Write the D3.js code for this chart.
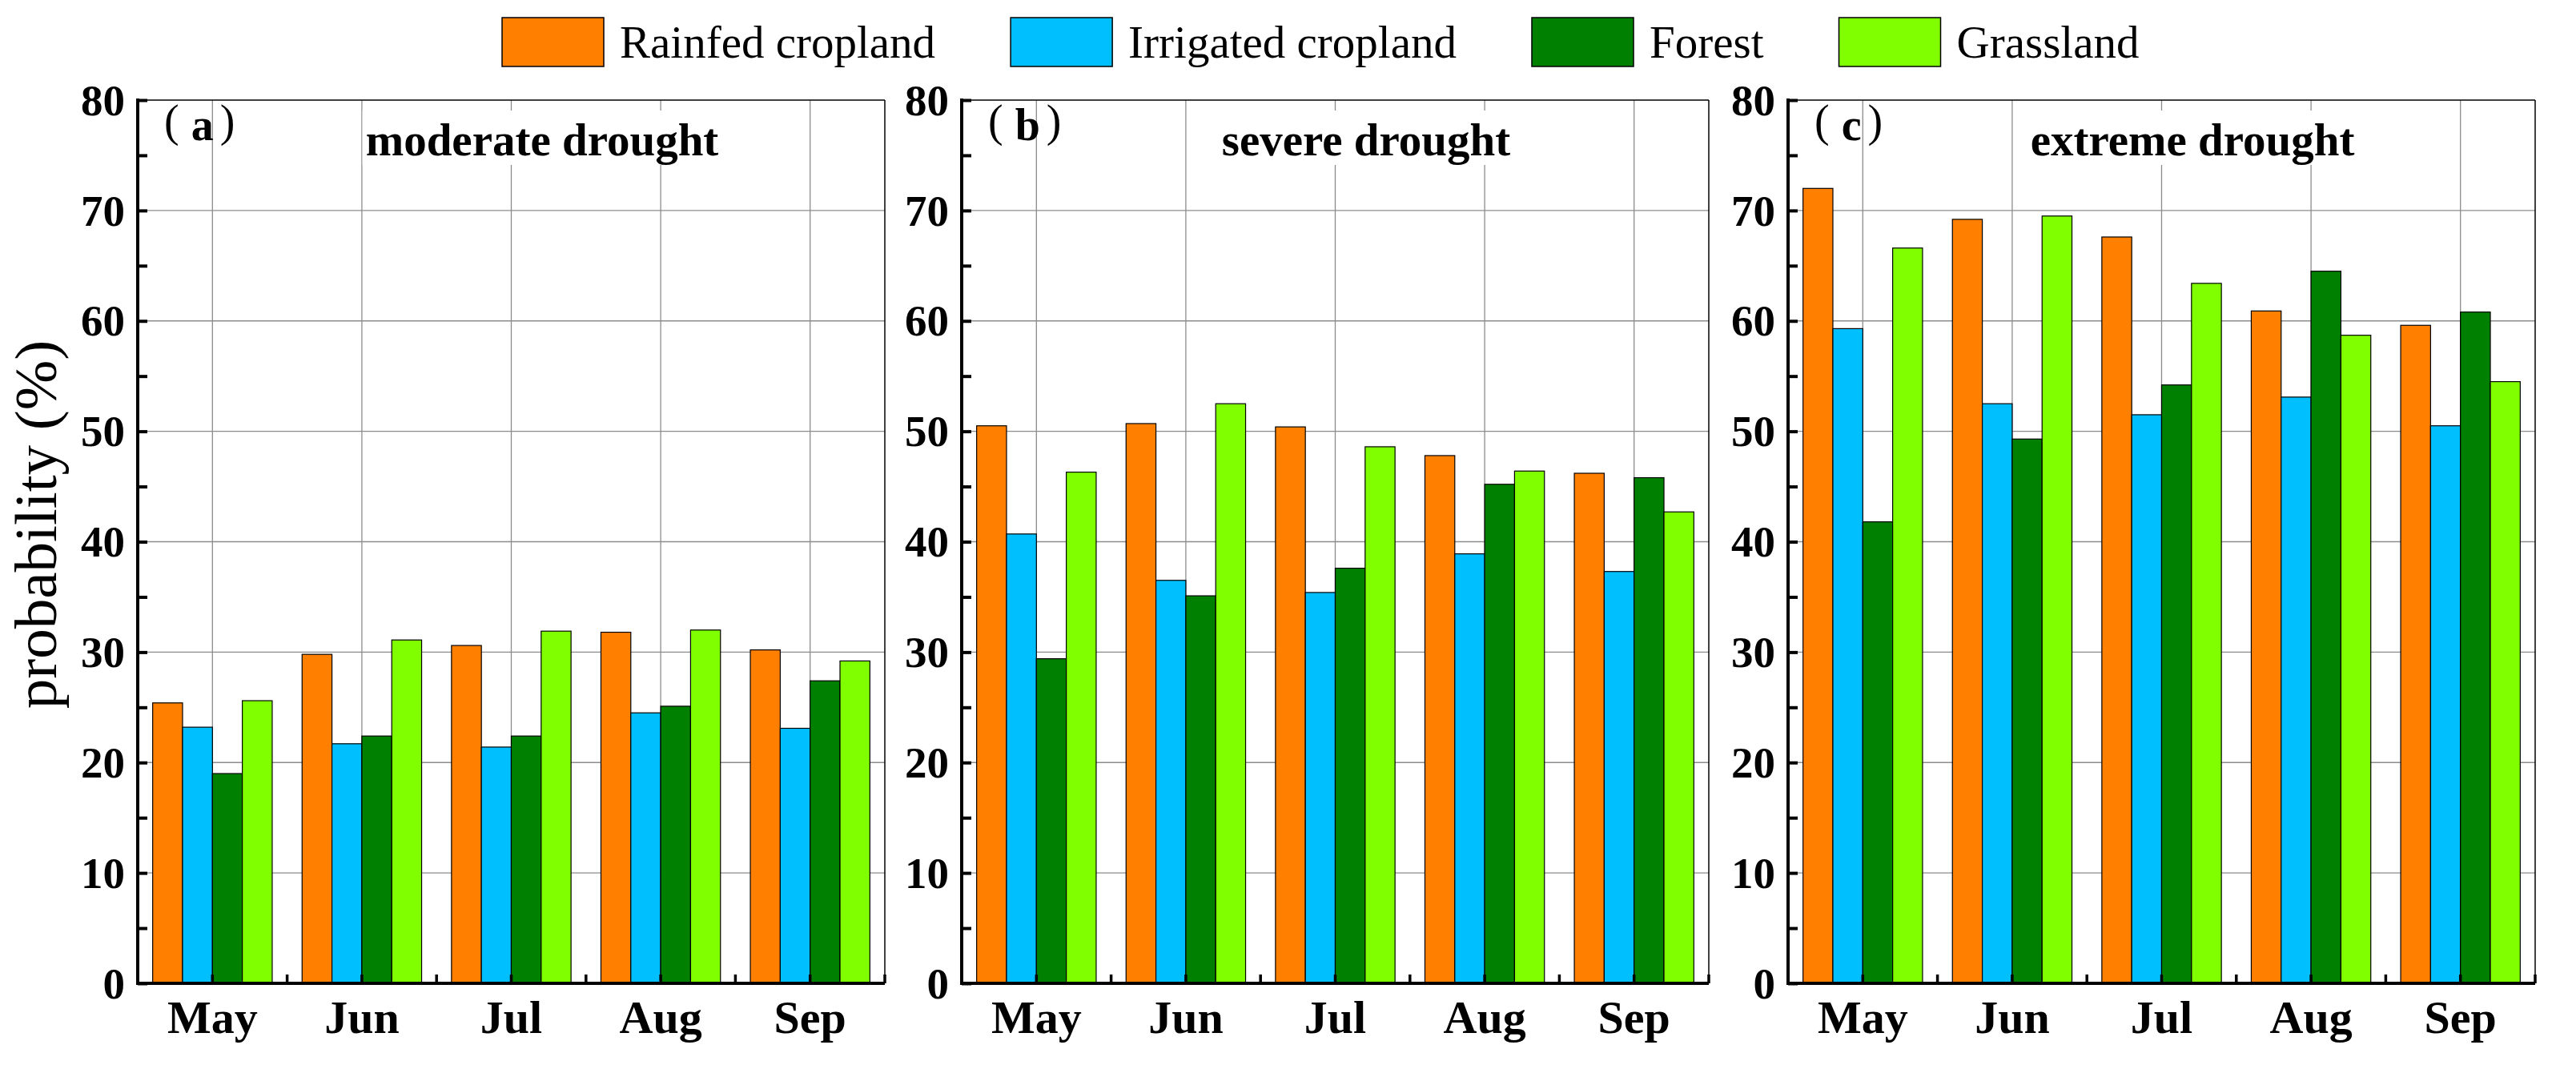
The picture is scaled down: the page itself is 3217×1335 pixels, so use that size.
<!DOCTYPE html>
<html>
<head>
<meta charset="utf-8">
<script src="https://cdn.jsdelivr.net/npm/d3@7"></script>
<style>
body { margin: 0; background: #fff; }
</style>
</head>
<body>
<svg id="main_svg" width="3217" height="1335"></svg>
<script>
// data
let months = ["May", "Jun", "Jul", "Aug", "Sep"]
let landTypes = ["Rainfed cropland", "Irrigated cropland", "Forest", "Grassland"]
let landColors = ["#FF8000", "#00BFFF", "#008000", "#80FF00"]
let yTicks = [0, 10, 20, 30, 40, 50, 60, 70, 80]

let moderateRainfed = [25.4, 29.8, 30.6, 31.8, 30.2]
let moderateIrrigated = [23.2, 21.7, 21.4, 24.5, 23.1]
let moderateForest = [19.0, 22.4, 22.4, 25.1, 27.4]
let moderateGrass = [25.6, 31.1, 31.9, 32.0, 29.2]

let severeRainfed = [50.5, 50.7, 50.4, 47.8, 46.2]
let severeIrrigated = [40.7, 36.5, 35.4, 38.9, 37.3]
let severeForest = [29.4, 35.1, 37.6, 45.2, 45.8]
let severeGrass = [46.3, 52.5, 48.6, 46.4, 42.7]

let extremeRainfed = [72.0, 69.2, 67.6, 60.9, 59.6]
let extremeIrrigated = [59.3, 52.5, 51.5, 53.1, 50.5]
let extremeForest = [41.8, 49.3, 54.2, 64.5, 60.8]
let extremeGrass = [66.6, 69.5, 63.4, 58.7, 54.5]

let panelLabels = ["a", "b", "c"]
let panelTitles = ["moderate drought", "severe drought", "extreme drought"]

let panels = [
    [moderateRainfed, moderateIrrigated, moderateForest, moderateGrass],
    [severeRainfed, severeIrrigated, severeForest, severeGrass],
    [extremeRainfed, extremeIrrigated, extremeForest, extremeGrass]
]

let serif = "'Liberation Serif', 'Times New Roman', serif"
let svg = d3.select("#main_svg")

let panelLeft = [172, 1201, 2233]
let pw = 933
let plotTop = 125
let plotBottom = 1228

let y = d3.scaleLinear().domain([0, 80]).range([plotBottom, plotTop])

function draw_panel(i) {
    let x0 = panelLeft[i]
    let g = svg.append("g")

    let x = d3.scaleBand().domain(months).range([x0, x0 + pw])
        .paddingInner(0.2).paddingOuter(0.1)
    let xs = d3.scaleBand().domain(d3.range(landTypes.length)).range([0, x.bandwidth()])

    let step = x.step()
    let centers = months.map(m => x(m) + x.bandwidth() / 2)
    let bounds = [x0].concat(centers.map(c => c + step / 2))

    // grid
    g.selectAll(".hgrid").data(yTicks.filter(t => t > 0 && t < 80))
        .enter().append("line")
        .attr("x1", x0).attr("x2", x0 + pw)
        .attr("y1", d => y(d)).attr("y2", d => y(d))
        .attr("stroke", "#8c8c8c").attr("stroke-width", 1.3)
    g.selectAll(".vgrid").data(centers)
        .enter().append("line")
        .attr("x1", d => d).attr("x2", d => d)
        .attr("y1", plotTop).attr("y2", plotBottom)
        .attr("stroke", "#8c8c8c").attr("stroke-width", 1.3)

    // title with white box behind it
    let title = g.append("text")
        .attr("x", x0 + 505)
        .attr("y", 194)
        .attr("text-anchor", "middle")
        .attr("font-family", serif)
        .attr("font-weight", "bold")
        .attr("font-size", 57)
        .text(panelTitles[i])
    let bb = title.node().getBBox()
    g.insert("rect", "text")
        .attr("x", bb.x - 4).attr("y", 138)
        .attr("width", bb.width + 8).attr("height", 68)
        .attr("fill", "#fff")

    // bars
    let series = panels[i]
    series.forEach(function(vals, s) {
        g.selectAll(".bar" + s).data(vals)
            .enter().append("rect")
            .attr("x", (d, k) => x(months[k]) + xs(s))
            .attr("y", d => y(d))
            .attr("width", xs.bandwidth())
            .attr("height", d => y(0) - y(d))
            .attr("fill", landColors[s])
            .attr("stroke", "#000")
            .attr("stroke-width", 1.2)
    })

    // frame top/right
    g.append("line").attr("x1", x0).attr("x2", x0 + pw).attr("y1", plotTop).attr("y2", plotTop)
        .attr("stroke", "#000").attr("stroke-width", 1.5)
    g.append("line").attr("x1", x0 + pw).attr("x2", x0 + pw).attr("y1", plotTop).attr("y2", plotBottom)
        .attr("stroke", "#000").attr("stroke-width", 1.5)

    // left axis, ticks inward
    let yAxis = d3.axisRight(y).tickValues(d3.range(0, 81, 5)).tickSize(12).tickFormat("")
    let ya = g.append("g").attr("transform", "translate(" + x0 + ",0)").call(yAxis)
    ya.select(".domain").remove()
    ya.selectAll(".tick line").attr("stroke", "#000").attr("stroke-width", 4)
    g.append("line").attr("x1", x0).attr("x2", x0).attr("y1", plotTop - 2).attr("y2", plotBottom + 2)
        .attr("stroke", "#000").attr("stroke-width", 4)

    g.selectAll(".ylab").data(yTicks)
        .enter().append("text")
        .attr("x", x0 - 16)
        .attr("y", d => y(d))
        .attr("dy", "0.34em")
        .attr("text-anchor", "end")
        .attr("font-family", serif)
        .attr("font-weight", "bold")
        .attr("font-size", 55)
        .text(d => d)

    // bottom axis
    g.append("line").attr("x1", x0 - 2).attr("x2", x0 + pw).attr("y1", plotBottom).attr("y2", plotBottom)
        .attr("stroke", "#000").attr("stroke-width", 4)
    g.selectAll(".xtick").data(centers.concat(bounds.slice(1)))
        .enter().append("line")
        .attr("x1", d => d).attr("x2", d => d)
        .attr("y1", plotBottom).attr("y2", plotBottom - 11)
        .attr("stroke", "#000").attr("stroke-width", 3.5)

    g.selectAll(".xlab").data(months)
        .enter().append("text")
        .attr("x", d => x(d) + x.bandwidth() / 2)
        .attr("y", 1290)
        .attr("text-anchor", "middle")
        .attr("font-family", serif)
        .attr("font-weight", "bold")
        .attr("font-size", 58)
        .text(d => d)

    // panel letter
    let lab = g.append("text")
        .attr("x", x0 + 33)
        .attr("y", 175)
        .attr("font-family", serif)
        .attr("font-size", 56)
    lab.append("tspan").attr("dy", -5).text("(")
    lab.append("tspan").attr("dx", 15).attr("dy", 5).attr("font-weight", "bold").text(panelLabels[i])
    lab.append("tspan").attr("dx", 8).attr("dy", -5).text(")")
}

function draw_legend() {
    let lx = 627
    landTypes.forEach(function(name, s) {
        svg.append("rect")
            .attr("x", lx).attr("y", 22)
            .attr("width", 127).attr("height", 61)
            .attr("fill", landColors[s])
            .attr("stroke", "#000").attr("stroke-width", 1.5)
        let t = svg.append("text")
            .attr("x", lx + 147).attr("y", 72)
            .attr("font-family", serif)
            .attr("font-size", 57)
            .text(name)
        lx = lx + 147 + t.node().getComputedTextLength() + 94
    })
}

for (let i = 0; i < panels.length; i++) {
    draw_panel(i)
}
draw_legend()

svg.append("text")
    .attr("transform", "translate(70,655) rotate(-90)")
    .attr("text-anchor", "middle")
    .attr("font-family", serif)
    .attr("font-size", 75)
    .text("probability (%)")
</script>
</body>
</html>
